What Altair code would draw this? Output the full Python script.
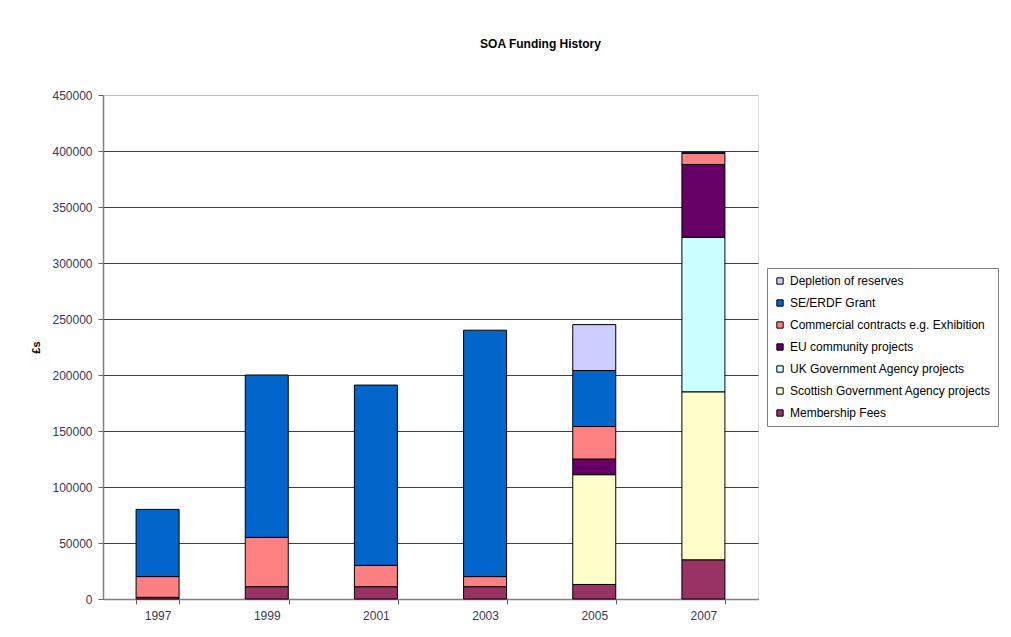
import altair as alt
import pandas as pd

years = ["1997", "1999", "2001", "2003", "2005", "2007"]
series = [
    "Depletion of reserves",
    "SE/ERDF Grant",
    "Commercial contracts e.g. Exhibition",
    "EU community projects",
    "UK Government Agency projects",
    "Scottish Government Agency projects",
    "Membership Fees",
]
colors = ["#CCCCFF", "#0066CC", "#FF8080", "#660066", "#CCFFFF", "#FFFFCC", "#993366"]

membership = [1500, 11000, 11000, 11000, 13000, 35000]
scottish = [0, 0, 0, 0, 98000, 150000]
uk = [0, 0, 0, 0, 0, 138000]
eu = [0, 0, 0, 0, 14000, 65000]
commercial = [18500, 44000, 19000, 9000, 29000, 10000]
se_erdf = [60000, 145000, 161000, 220000, 50000, 1000]
depletion = [0, 0, 0, 0, 41000, 0]

values_by_series = {
    "Membership Fees": membership,
    "Scottish Government Agency projects": scottish,
    "UK Government Agency projects": uk,
    "EU community projects": eu,
    "Commercial contracts e.g. Exhibition": commercial,
    "SE/ERDF Grant": se_erdf,
    "Depletion of reserves": depletion,
}
stack_rank = {s: i for i, s in enumerate(reversed(series))}

rows = []
for s, vals in values_by_series.items():
    for y, v in zip(years, vals):
        if v > 0:
            rows.append({"year": y, "series": s, "value": v, "rank": stack_rank[s]})
df = pd.DataFrame(rows)

font = "Liberation Sans"

bars = alt.Chart(df).mark_bar(stroke="#000000", strokeWidth=1, size=43).encode(
    x=alt.X("year:N", sort=years, title=None,
            scale=alt.Scale(paddingInner=0.6, paddingOuter=0.3),
            axis=alt.Axis(labelAngle=0, labelFont=font, labelFontSize=12,
                          labelColor="#383858", domainColor="#808080", domainWidth=1.5,
                          tickColor="#606060", tickSize=5, tickBand="extent",
                          labelPadding=6, grid=False)),
    y=alt.Y("sum(value):Q", title="£s",
            scale=alt.Scale(domain=[0, 450000], nice=False),
            axis=alt.Axis(values=list(range(0, 450001, 50000)), format="d",
                          labelFont=font, labelFontSize=12, labelColor="#383858",
                          domainColor="#808080", domainWidth=1.5,
                          tickColor="#606060", tickSize=5, labelPadding=6,
                          gridColor={"condition": {"test": "datum.value >= 450000",
                                                   "value": "#C0C0C0"},
                                     "value": "#404040"},
                          gridWidth=1,
                          titleFont=font, titleFontSize=11, titleFontWeight="bold",
                          titleColor="#000000", titlePadding=10)),
    color=alt.Color("series:N",
                    scale=alt.Scale(domain=series, range=colors),
                    legend=alt.Legend(title=None, orient="none", legendX=664, legendY=173,
                                      symbolType="square", symbolSize=40,
                                      symbolStrokeColor="#000000", symbolStrokeWidth=1,
                                      labelFont=font, labelFontSize=12, labelColor="#000000",
                                      rowPadding=10, fillColor="#FFFFFF",
                                      strokeColor="#808080", padding=7,
                                      labelLimit=400)),
    order=alt.Order("rank:Q", sort="ascending"),
)

chart = bars.properties(
    width=655,
    height=504,
    title=alt.TitleParams("SOA Funding History", font=font, fontSize=12,
                          fontWeight="bold", color="#000000", dx=110, offset=38),
).configure_view(
    fill="#C0C0C0", stroke=None
).configure(
    autosize=alt.AutoSizeParams(type="none"),
    padding={"left": 95, "top": 87, "right": 245, "bottom": 28},
    background="#FFFFFF",
)

chart.save("out.html", embed_options={"renderer": "svg", "actions": False})
